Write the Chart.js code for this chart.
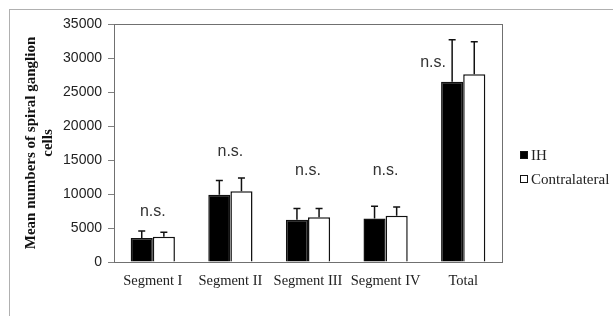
<!DOCTYPE html>
<html>
<head>
<meta charset="utf-8">
<script src="https://cdn.jsdelivr.net/npm/chart.js@4.4.0/dist/chart.umd.min.js"></script>
<style>
  html, body { margin: 0; padding: 0; background: #fff; overflow: hidden; }
  #wrap { position: relative; width: 613px; height: 316px; }
  #frame { position: absolute; left: 9px; top: 9px; width: 700px; height: 400px; border: 1px solid #b0b0b0; }
  canvas { position: absolute; left: 0; top: 0; }
</style>
</head>
<body>
<div id="wrap">
  <div id="frame"></div>
  <canvas id="chart" width="613" height="316"></canvas>
</div>
<script>
const categories = ['Segment I', 'Segment II', 'Segment III', 'Segment IV', 'Total'];
const ihValues = [3530, 9900, 6200, 6400, 26500];
const ihErrors = [1030, 2100, 1650, 1800, 6200];
const contraValues = [3720, 10400, 6570, 6800, 27600];
const contraErrors = [650, 1950, 1280, 1300, 4800];
const nsLabels = ['n.s.', 'n.s.', 'n.s.', 'n.s.', 'n.s.'];
const nsLevels = [7350, 16200, 13500, 13500, 29300];
const yTicks = [0, 5000, 10000, 15000, 20000, 25000, 30000, 35000];

const serif = '"Liberation Serif", "DejaVu Serif", serif';
const sans = '"Liberation Sans", Arial, sans-serif';

// box around plot area, error bars, n.s. labels and legend
const extras = {
    id: 'extras',
    afterDatasetsDraw(chart) {
        const ctx = chart.ctx;
        const y = chart.scales.y;
        const a = chart.chartArea;
        ctx.save();

        chart.data.datasets.forEach((ds, i) => {
            const meta = chart.getDatasetMeta(i);
            meta.data.forEach((bar, j) => {
                const top = y.getPixelForValue(ds.data[j] + ds.errors[j]);
                ctx.strokeStyle = '#111';
                ctx.lineWidth = 1.5;
                ctx.beginPath();
                ctx.moveTo(bar.x, bar.y);
                ctx.lineTo(bar.x, top);
                ctx.moveTo(bar.x - 3.5, top);
                ctx.lineTo(bar.x + 3.5, top);
                ctx.stroke();
            });
        });

        ctx.strokeStyle = '#707070';
        ctx.lineWidth = 1;
        ctx.strokeRect(Math.round(a.left) + 0.5, Math.round(a.top) + 0.5,
            Math.round(a.right - a.left), Math.round(a.bottom - a.top));

        ctx.font = '16px ' + sans;
        ctx.fillStyle = '#333';
        ctx.textAlign = 'center';
        ctx.textBaseline = 'middle';
        const ihMeta = chart.getDatasetMeta(0);
        nsLabels.forEach((t, j) => {
            const b0 = ihMeta.data[j];
            let x = chart.scales.x.getPixelForValue(j);
            if (j === nsLabels.length - 1) x = b0.x - b0.width / 2 - 8;
            ctx.fillText(t, x, y.getPixelForValue(nsLevels[j]));
        });

        ctx.font = '15px ' + serif;
        ctx.textAlign = 'left';
        chart.data.datasets.forEach((ds, i) => {
            const ly = 155 + i * 24;
            ctx.fillStyle = ds.backgroundColor;
            ctx.fillRect(520, ly - 4, 8, 8);
            ctx.strokeStyle = '#111';
            ctx.lineWidth = 1;
            ctx.strokeRect(520.5, ly - 3.5, 7, 7);
            ctx.fillStyle = '#222';
            ctx.fillText(ds.label, 531, ly + 1);
        });
        ctx.restore();
    }
};

new Chart(document.getElementById('chart'), {
    type: 'bar',
    data: {
        labels: categories,
        datasets: [
            { label: 'IH', data: ihValues, errors: ihErrors, backgroundColor: '#000', borderColor: '#111', borderWidth: 1.5 },
            { label: 'Contralateral', data: contraValues, errors: contraErrors, backgroundColor: '#fff', borderColor: '#111', borderWidth: 1.5 }
        ]
    },
    options: {
        responsive: false,
        animation: false,
        layout: { padding: { left: 0, top: 24, right: 111, bottom: 0 } },
        datasets: { bar: { categoryPercentage: 0.57, barPercentage: 1.0, borderSkipped: 'bottom' } },
        plugins: { legend: { display: false }, tooltip: { enabled: false } },
        scales: {
            x: {
                grid: { display: false, drawTicks: false },
                border: { display: true, color: '#808080' },
                ticks: { color: '#222', font: { family: serif, size: 14.5 }, padding: 10, maxRotation: 0 },
                afterFit(s) { s.height = 54; }
            },
            y: {
                min: 0,
                max: 35000,
                afterBuildTicks(s) { s.ticks = yTicks.map(v => ({ value: v })); },
                grid: { drawOnChartArea: false, drawTicks: true, tickLength: 6, color: '#808080' },
                border: { display: true, color: '#808080' },
                ticks: { color: '#222', font: { family: sans, size: 14 }, padding: 6, callback: v => String(v) },
                title: {
                    display: true,
                    text: ['Mean numbers of spiral ganglion', 'cells'],
                    color: '#111',
                    font: { family: serif, size: 15, weight: 'bold', lineHeight: 1.15 },
                    padding: { top: 22, bottom: 0 }
                },
                afterFit(s) { s.width = 114; }
            }
        }
    },
    plugins: [extras]
});
</script>
</body>
</html>
